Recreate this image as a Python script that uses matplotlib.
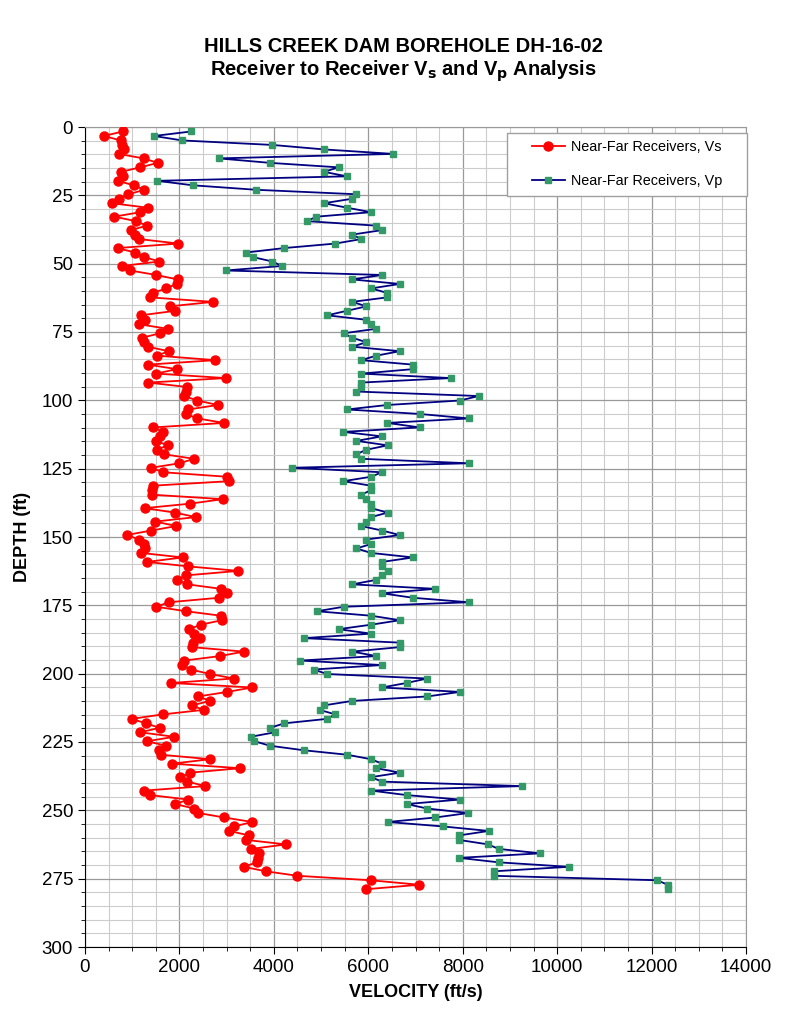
import numpy as np
import matplotlib
matplotlib.use("Agg")
import matplotlib.pyplot as plt
from matplotlib.ticker import MultipleLocator
from matplotlib.patches import Rectangle

plt.rcParams['font.family'] = ['Liberation Sans', 'DejaVu Sans']

# receivers every 0.5 m (1.6404 ft), 170 depths
DEPTH_STEP = 1.6404
depth = np.arange(1, 171) * DEPTH_STEP

vs = [800, 400, 760, 780, 830, 710, 1240, 1540, 1170, 760,
      810, 690, 1030, 1260, 920, 730, 570, 1330, 1170, 620,
      1080, 1310, 970, 1060, 1150, 1980, 690, 1060, 1260, 1570,
      790, 950, 1510, 1960, 1940, 1720, 1440, 1380, 2710, 1800,
      1910, 1180, 1270, 1150, 1750, 1590, 1210, 1250, 1330, 1770,
      1530, 2760, 1330, 1940, 1510, 2980, 1340, 2170, 2140, 2100,
      2380, 2810, 2190, 2140, 2380, 2950, 1450, 1650, 1580, 1510,
      1750, 1520, 1680, 2310, 2000, 1400, 1650, 3000, 3040, 1430,
      1410, 1410, 2920, 2230, 1270, 1900, 2350, 1490, 1930, 1400,
      880, 1150, 1240, 1270, 1190, 2070, 1310, 2190, 3250, 2140,
      1940, 2170, 2880, 3000, 2830, 1770, 1510, 2140, 2880, 2900,
      2450, 2210, 2310, 2440, 2280, 2260, 3360, 2860, 2100, 2050,
      2240, 2650, 3150, 1820, 3540, 3010, 2400, 2650, 2260, 2510,
      1650, 990, 1290, 1580, 1170, 1890, 1310, 1720, 1560, 1610,
      2650, 1840, 3290, 2230, 2020, 2170, 2550, 1250, 1380, 2190,
      1910, 2310, 2400, 2950, 3540, 3160, 3060, 3470, 3410, 4260,
      3520, 3680, 3660, 3640, 3360, 3830, 4500, 6050, 7080, 5950]

vp = [2250, 1460, 2060, 3970, 5060, 6530, 2830, 3920, 5370, 5060,
      5550, 1530, 2280, 3620, 5750, 5660, 5060, 5550, 6060, 4900,
      4700, 6170, 6290, 5660, 5850, 5300, 4220, 3410, 3550, 3970,
      4170, 2980, 6290, 5660, 6670, 6060, 6400, 6400, 5660, 5960,
      5550, 5130, 5960, 6060, 6170, 5480, 5660, 5960, 5660, 6670,
      6170, 5850, 6950, 6950, 5850, 7750, 5850, 5850, 5750, 8340,
      7940, 6400, 5550, 7090, 8130, 6400, 7090, 5470, 6290, 5750,
      6410, 5950, 5750, 5850, 8130, 4380, 6290, 6060, 5470, 6060,
      6060, 5850, 5960, 6060, 6060, 6410, 6060, 5960, 5850, 6290,
      6670, 5960, 6060, 5750, 6060, 6950, 6290, 6290, 6410, 6290,
      6170, 5660, 7420, 6290, 6950, 8130, 5480, 4910, 6060, 6670,
      6060, 5370, 6060, 4630, 6670, 6670, 5660, 6170, 4560, 6290,
      4840, 5130, 7250, 6810, 6290, 7940, 7250, 5660, 5060, 4970,
      5300, 5130, 4220, 3920, 4020, 3510, 3590, 3920, 4630, 5550,
      6060, 6290, 6170, 6670, 6060, 6290, 9260, 6060, 6810, 7940,
      6810, 7250, 8120, 7420, 6410, 7590, 8550, 7920, 7920, 8540,
      8760, 9640, 7920, 8760, 10250, 8660, 8660, 12120, 12340, 12340]

fig = plt.figure(figsize=(8.06, 10.24), dpi=100)
ax = fig.add_axes([85/806, 1 - 947/1024, 661/806, 820/1024])

ax.plot(vs, depth, color='#FF0000', lw=1.3, marker='o', ms=6.5,
        mfc='#FF0000', mec='#FF0000', label='Near-Far Receivers, Vs', zorder=3)
ax.plot(vp, depth, color='#000080', lw=1.3, marker='s', ms=5,
        mfc='#339966', mec='#339966', label='Near-Far Receivers, Vp', zorder=3)

ax.set_xlim(0, 14000)
ax.set_ylim(300, 0)
ax.xaxis.set_major_locator(MultipleLocator(2000))
ax.xaxis.set_minor_locator(MultipleLocator(500))
ax.yaxis.set_major_locator(MultipleLocator(25))
ax.yaxis.set_minor_locator(MultipleLocator(5))
ax.grid(which='minor', color='#cccccc', lw=0.8)
ax.grid(which='major', color='#999999', lw=0.9)
ax.set_axisbelow(True)

ax.tick_params(which='major', direction='out', length=5, labelsize=13.5)
ax.tick_params(which='minor', direction='out', length=3)
for s in ['top', 'right']:
    ax.spines[s].set_color('#999999')
for s in ['left', 'bottom']:
    ax.spines[s].set_color('black')

ax.set_xlabel('VELOCITY (ft/s)', fontsize=13, fontweight='bold', labelpad=6)
ax.set_ylabel('DEPTH (ft)', fontsize=13, fontweight='bold', labelpad=8)

fig.text(0.5, 0.955, 'HILLS CREEK DAM BOREHOLE DH-16-02', ha='center', va='center',
         fontsize=14.5, fontweight='bold')
fig.text(0.5, 0.930, r'Receiver to Receiver V$_\mathbf{s}$ and V$_\mathbf{p}$ Analysis',
         ha='center', va='center', fontsize=14.5, fontweight='bold')

# legend box drawn separately so it can be wider than its content
box = (0.638, 0.916, 0.364, 0.077)
ax.add_patch(Rectangle(box[:2], box[2], box[3], transform=ax.transAxes,
                       facecolor='white', edgecolor='#a0a0a0', lw=1.0,
                       zorder=4, clip_on=False))
leg = ax.legend(loc='center', bbox_to_anchor=box, frameon=False,
                fontsize=10.4, labelspacing=1.4, handlelength=2.3,
                handletextpad=0.45, borderpad=0.5, borderaxespad=0)
leg.set_zorder(5)

fig.savefig('out.png', dpi=100)
